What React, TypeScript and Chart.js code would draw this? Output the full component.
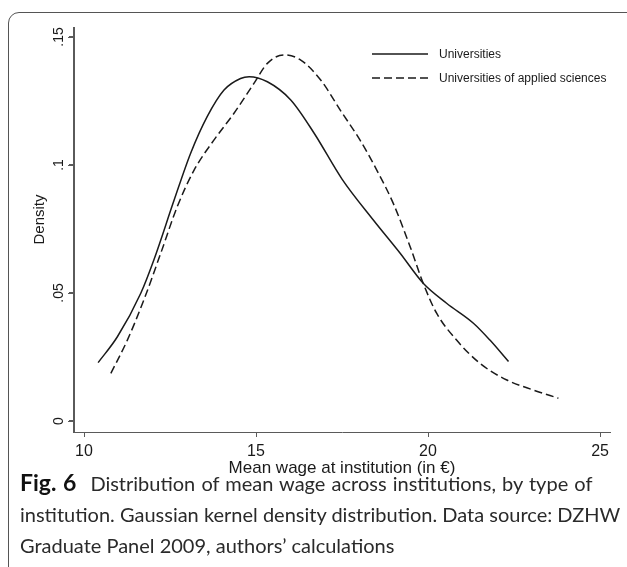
import React, { useEffect, useRef } from "react";
import { Chart, registerables } from "chart.js";

Chart.register(...registerables);

// ---- data ----
const seriesNames = ["Universities", "Universities of applied sciences"];

const uniX = [10.41, 10.97, 11.65, 12.03, 12.62, 13.1, 13.58, 14.07, 14.55, 14.8, 15.33, 16.01, 16.69, 17.5, 18.41, 19.19, 19.86, 20.54, 21.32, 21.8, 22.34];
const uniY = [0.0228, 0.0329, 0.0499, 0.0629, 0.0863, 0.1046, 0.1189, 0.1293, 0.1338, 0.1345, 0.1325, 0.1254, 0.1124, 0.0945, 0.0785, 0.0655, 0.0538, 0.046, 0.0382, 0.0316, 0.0232];

const uasX = [10.78, 11.26, 11.74, 12.23, 12.71, 13.2, 13.78, 14.36, 14.94, 15.33, 15.81, 16.3, 16.88, 17.48, 18.02, 18.51, 18.99, 19.48, 19.86, 20.25, 20.83, 21.51, 22.29, 23.06, 23.79];
const uasY = [0.0186, 0.0316, 0.0473, 0.0655, 0.0837, 0.098, 0.1098, 0.1202, 0.1319, 0.1397, 0.143, 0.141, 0.1332, 0.1208, 0.1098, 0.098, 0.085, 0.0681, 0.0538, 0.0421, 0.0316, 0.0225, 0.016, 0.0121, 0.0089];

const xTickValues = [10, 15, 20, 25];
const xTickLabels = ["10", "15", "20", "25"];
const yTickValues = [0, 0.05, 0.1, 0.15];
const yTickLabels = ["0", ".05", ".1", ".15"];

const xTitle = "Mean wage at institution (in €)";
const yTitle = "Density";

const captionBold = "Fig. 6";
const captionLines = [
  "Distribution of mean wage across institutions, by type of",
  "institution. Gaussian kernel density distribution. Data source: DZHW",
  "Graduate Panel 2009, authors’ calculations",
];

// ---- styles ----
const FONT = '"Liberation Sans", Arial, Helvetica, sans-serif';
const INK = "#1a1a1a";
const AXIS = "#5a5a5a";

// y axis line/ticks/labels/title + inner legend
const decorPlugin = {
  id: "decor",
  afterDraw(chart: any) {
    const ctx = chart.ctx;
    const ys = chart.scales.y;
    const ax = Math.round(ys.right) - 0.5;

    // axis line and outward tick marks
    ctx.save();
    ctx.strokeStyle = AXIS;
    ctx.lineWidth = 1;
    ctx.beginPath();
    ctx.moveTo(ax, Math.round(ys.top));
    ctx.lineTo(ax, Math.round(ys.bottom) + 1);
    ys.ticks.forEach((t: any) => {
      const py = Math.round(ys.getPixelForValue(t.value)) + 0.5;
      ctx.moveTo(ax - 5.5, py);
      ctx.lineTo(ax, py);
    });
    ctx.stroke();
    ctx.restore();

    // rotated tick labels (reading upward), centred on each tick
    ctx.save();
    ctx.fillStyle = INK;
    ctx.font = `14px ${FONT}`;
    ctx.textAlign = "center";
    ctx.textBaseline = "middle";
    ys.ticks.forEach((t: any) => {
      const idx = yTickValues.findIndex((v) => Math.abs(v - t.value) < 1e-9);
      if (idx < 0) return;
      const py = ys.getPixelForValue(t.value);
      ctx.save();
      ctx.translate(ys.right - 15, py);
      ctx.rotate(-Math.PI / 2);
      ctx.fillText(yTickLabels[idx], 0, 0);
      ctx.restore();
    });
    // axis title
    ctx.font = `15px ${FONT}`;
    ctx.save();
    ctx.translate(ys.left + 30, (ys.top + ys.bottom) / 2 - 10);
    ctx.rotate(-Math.PI / 2);
    ctx.fillText(yTitle, 0, 0);
    ctx.restore();
    ctx.restore();

    // legend
    const lx = 372;
    const len = 56;
    const rows = [54, 78];
    chart.data.datasets.forEach((ds: any, i: number) => {
      const y = rows[i];
      ctx.save();
      ctx.strokeStyle = ds.borderColor;
      ctx.lineWidth = ds.borderWidth;
      ctx.setLineDash(ds.borderDash || []);
      ctx.beginPath();
      ctx.moveTo(lx, y);
      ctx.lineTo(lx + len, y);
      ctx.stroke();
      ctx.setLineDash([]);
      ctx.fillStyle = INK;
      ctx.font = `12px ${FONT}`;
      ctx.textBaseline = "middle";
      ctx.textAlign = "left";
      ctx.fillText(ds.label, lx + len + 11, y + 1);
      ctx.restore();
    });
  },
};

export default function App() {
  const ref = useRef<HTMLCanvasElement | null>(null);

  useEffect(() => {
    if (!ref.current) return;
    const chart = new Chart(ref.current, {
      type: "line",
      data: {
        datasets: [
          {
            label: seriesNames[0],
            data: uniX.map((x, i) => ({ x, y: uniY[i] })),
            borderColor: INK,
            borderWidth: 1.5,
            pointRadius: 0,
            cubicInterpolationMode: "monotone",
            fill: false,
          },
          {
            label: seriesNames[1],
            data: uasX.map((x, i) => ({ x, y: uasY[i] })),
            borderColor: INK,
            borderWidth: 1.5,
            borderDash: [8, 4],
            pointRadius: 0,
            cubicInterpolationMode: "monotone",
            fill: false,
          },
        ],
      },
      options: {
        animation: false,
        responsive: false,
        maintainAspectRatio: false,
        layout: { padding: { left: 10, right: 17, top: 27, bottom: 0 } },
        plugins: { legend: { display: false }, tooltip: { enabled: false } },
        scales: {
          x: {
            type: "linear",
            min: 9.709,
            max: 25.29,
            afterBuildTicks: (s: any) => {
              s.ticks = xTickValues.map((v) => ({ value: v }));
            },
            afterFit: (s: any) => {
              s.height = 58;
            },
            grid: { drawOnChartArea: false, drawTicks: true, tickLength: 5, color: AXIS, lineWidth: 1 },
            border: { display: true, color: AXIS, width: 1 },
            ticks: {
              font: { family: FONT, size: 16 },
              color: INK,
              padding: 5,
              maxRotation: 0,
              minRotation: 0,
              callback: (v: any) => xTickLabels[xTickValues.indexOf(Number(v))] ?? "",
            },
            title: {
              display: true,
              text: xTitle,
              font: { family: FONT, size: 17 },
              color: INK,
              padding: { top: 0, bottom: 11 },
            },
          },
          y: {
            type: "linear",
            position: "left",
            min: -0.0043,
            max: 0.1539,
            afterBuildTicks: (s: any) => {
              s.ticks = yTickValues.map((v) => ({ value: v }));
            },
            afterFit: (s: any) => {
              s.width = 64;
            },
            grid: { display: true, drawOnChartArea: false, drawTicks: true, tickLength: 5, color: AXIS, lineWidth: 1 },
            border: { display: true, color: AXIS, width: 1 },
            ticks: { display: false },
            title: { display: false, text: yTitle },
          },
        },
      },
      plugins: [decorPlugin],
    } as any);
    return () => chart.destroy();
  }, []);

  return (
    <div style={{ position: "absolute", left: 0, top: 0, width: 627, height: 567, overflow: "hidden", background: "#fff" }}>
      <div
        style={{
          position: "absolute",
          left: 8,
          top: 12,
          width: 660,
          height: 620,
          border: "1.5px solid #555",
          borderRadius: 11,
          boxSizing: "border-box",
        }}
      />
      <canvas ref={ref} width={627} height={490} style={{ position: "absolute", left: 0, top: 0, width: 627, height: 490 }} />
      <div
        style={{
          position: "absolute",
          left: 20,
          top: 467,
          fontFamily: "Lato, 'Open Sans', sans-serif",
          fontSize: 20,
          lineHeight: "31px",
          color: "#2a2a2a",
          whiteSpace: "nowrap",
        }}
      >
        <div style={{ wordSpacing: 1 }}>
          <span style={{ fontWeight: 700, color: "#111", fontSize: 23, marginRight: 14 }}>{captionBold}</span>
          {captionLines[0]}
        </div>
        <div>{captionLines[1]}</div>
        <div>{captionLines[2]}</div>
      </div>
    </div>
  );
}
